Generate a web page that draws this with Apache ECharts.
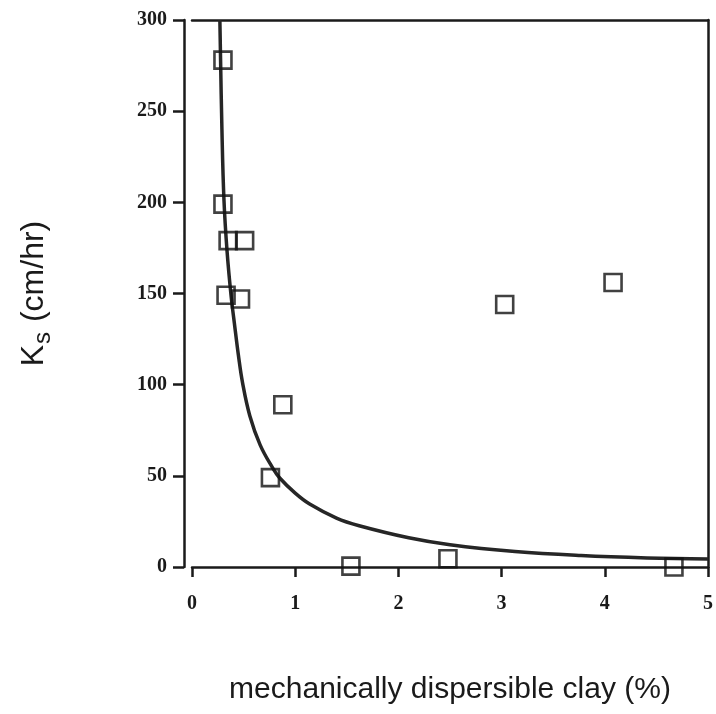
<!DOCTYPE html>
<html>
<head>
<meta charset="utf-8">
<script src="https://cdn.jsdelivr.net/npm/echarts@6/dist/echarts.min.js"></script>
<style>
html,body{margin:0;padding:0;background:#fff;}
#chart{width:716px;height:714px;}
</style>
</head>
<body>
<div id="chart"></div>
<script>
// Observed data points: mechanically dispersible clay (%) vs Ks (cm/hr)
var clayPct = [0.30, 0.30, 0.35, 0.51, 0.33, 0.47, 0.88, 0.76, 1.54, 2.48, 3.03, 4.08, 4.67];
var ksValues = [278, 199, 179, 179, 149, 147, 89, 49, 0.5, 4.5, 144, 156, 0];

// Fitted curve
var curveX = [0.27, 0.29, 0.31, 0.34, 0.38, 0.41, 0.45, 0.49, 0.56, 0.66, 0.78, 0.85, 1.00, 1.14, 1.40, 1.62, 2.10, 2.50, 3.13, 3.77, 4.41, 5.00];
var curveY = [300, 240, 201, 173, 148, 134, 116, 101, 83, 67, 54.5, 48.8, 40.5, 34.5, 26.8, 22.6, 16, 12.2, 8.5, 6.3, 5.0, 4.4];

var xTicks = [0, 1, 2, 3, 4, 5];
var yTicks = [0, 50, 100, 150, 200, 250, 300];

var pts = clayPct.map(function (x, i) { return [x, ksValues[i]]; });
var curve = curveX.map(function (x, i) { return [x, curveY[i]]; });

var ink = '#1a1a1a';
var tickFont = {fontFamily: 'Liberation Serif', fontWeight: 'bold', fontSize: 20, color: ink};

var chart = echarts.init(document.getElementById('chart'));
chart.setOption({
  backgroundColor: '#fff',
  animation: false,
  grid: {left: 192, right: 5, top: 20, bottom: 147},
  xAxis: [{
    type: 'value', min: xTicks[0], max: xTicks[xTicks.length - 1], interval: 1,
    position: 'bottom',
    axisLine: {show: true, onZero: false, lineStyle: {color: ink, width: 2.5}},
    axisTick: {show: true, inside: false, length: 10, lineStyle: {color: ink, width: 2.5}},
    axisLabel: Object.assign({margin: 27}, tickFont),
    splitLine: {show: false},
    name: 'mechanically dispersible clay (%)',
    nameLocation: 'middle', nameGap: 108,
    nameTextStyle: {fontFamily: 'Liberation Sans', fontSize: 30, color: ink}
  }, {
    type: 'value', min: 0, max: 5, position: 'top',
    axisLine: {show: true, onZero: false, lineStyle: {color: ink, width: 2.5}},
    axisTick: {show: false}, axisLabel: {show: false}, splitLine: {show: false}
  }],
  yAxis: [{
    type: 'value', min: yTicks[0], max: yTicks[yTicks.length - 1], interval: 50,
    offset: 8,
    axisLine: {show: true, onZero: false, lineStyle: {color: ink, width: 2.5}},
    axisTick: {show: true, inside: false, length: 11, lineStyle: {color: ink, width: 2.5}},
    axisLabel: Object.assign({margin: 17}, tickFont),
    splitLine: {show: false},
    name: '{k|K}{s|s}{k| (cm/hr)}',
    nameLocation: 'middle', nameGap: 130, nameRotate: 90,
    nameTextStyle: {
      color: ink,
      rich: {
        k: {fontFamily: 'Liberation Sans', fontSize: 32, color: ink, verticalAlign: 'top', lineHeight: 36},
        s: {fontFamily: 'Liberation Sans', fontSize: 24, color: ink, verticalAlign: 'top', lineHeight: 24, padding: [13, 1, 0, 1]}
      }
    }
  }, {
    type: 'value', min: 0, max: 300, position: 'right',
    axisLine: {show: true, onZero: false, lineStyle: {color: ink, width: 2.5}},
    axisTick: {show: false}, axisLabel: {show: false}, splitLine: {show: false}
  }],
  series: [{
    type: 'line', data: curve, smooth: 0.4, showSymbol: false,
    lineStyle: {color: '#262626', width: 3.5}, z: 2
  }, {
    type: 'scatter', data: pts, symbol: 'rect', symbolSize: 17, clip: false,
    itemStyle: {color: 'rgba(255,255,255,0)', borderColor: '#111', borderWidth: 2.6}, z: 3
  }]
});
</script>
</body>
</html>
